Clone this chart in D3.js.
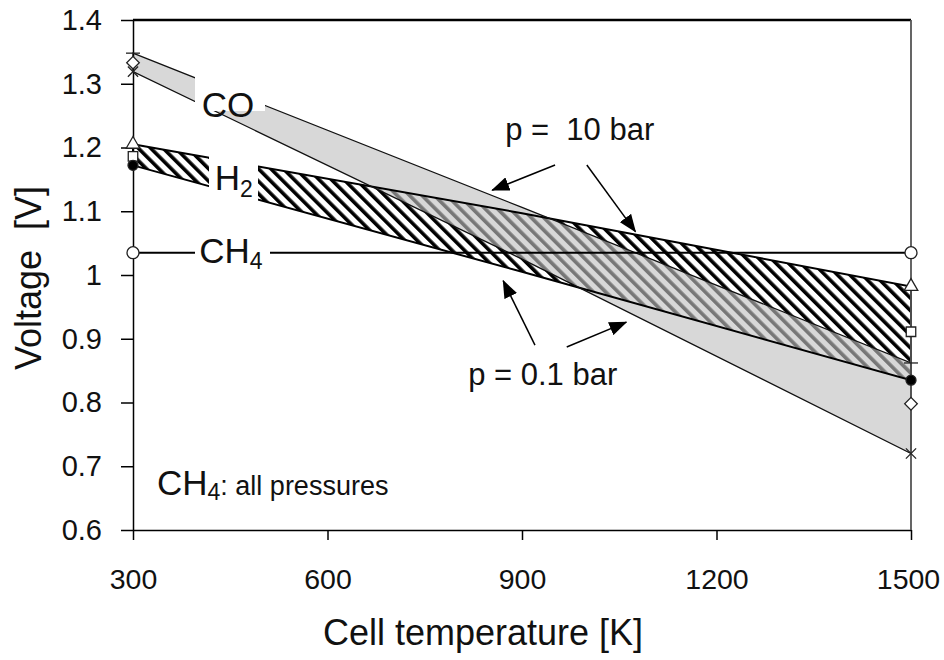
<!DOCTYPE html>
<html>
<head>
<meta charset="utf-8">
<script src="https://cdn.jsdelivr.net/npm/d3@7"></script>
<style>
  body { margin: 0; background: #fff; }
  svg { display: block; }
  text { font-family: "Liberation Sans", Arial, sans-serif; fill: #111; }
</style>
</head>
<body>
<script>
// Reversible cell voltage vs temperature for CO, H2 and CH4

const width = 944;
const height = 660;

// data
const temps = [300, 900, 1500];
const coHigh = [1.348, 1.106, 0.862];   // p = 10 bar
const coLow = [1.319, 1.025, 0.720];    // p = 0.1 bar
const h2High = [1.205, 1.097, 0.982];   // p = 10 bar
const h2Low = [1.172, 1.005, 0.835];    // p = 0.1 bar
const ch4 = [1.035, 1.035, 1.035];      // all pressures

const endTemps = [300, 1500];
const coMarks10 = [1.348, 0.862];
const coMarks1 = [1.333, 0.798];
const coMarks01 = [1.319, 0.720];
const h2Marks10 = [1.205, 0.982];
const h2Marks1 = [1.186, 0.911];
const h2Marks01 = [1.172, 0.835];
const ch4Marks = [1.035, 1.035];

const xTicks = [300, 600, 900, 1200, 1500];
const yTicks = [0.6, 0.7, 0.8, 0.9, 1.0, 1.1, 1.2, 1.3, 1.4];

const x = d3.scaleLinear().domain([300, 1500]).range([133, 911]);
const y = d3.scaleLinear().domain([0.6, 1.4]).range([530, 20]);

const svg = d3.select("body").append("svg")
    .attr("width", width)
    .attr("height", height);

svg.append("rect").attr("width", width).attr("height", height).attr("fill", "#fff");

const defs = svg.append("defs");

// diagonal hatch for the H2 band
const hatch = defs.append("pattern")
    .attr("id", "hatch")
    .attr("patternUnits", "userSpaceOnUse")
    .attr("width", 8.8)
    .attr("height", 8.8)
    .attr("patternTransform", "rotate(-45)");
hatch.append("rect").attr("width", 8.8).attr("height", 8.8).attr("fill", "#fff");
hatch.append("rect").attr("width", 3.6).attr("height", 8.8).attr("fill", "#000");

defs.append("marker")
    .attr("id", "arrow")
    .attr("markerUnits", "userSpaceOnUse")
    .attr("markerWidth", 18)
    .attr("markerHeight", 14)
    .attr("refX", 17)
    .attr("refY", 7)
    .attr("orient", "auto")
    .append("path")
    .attr("d", "M0,0L18,7L0,14Z")
    .attr("fill", "#000");

const band = (hi, lo) => d3.area()
    .x((d, i) => x(temps[i]))
    .y0((d, i) => y(lo[i]))
    .y1((d, i) => y(hi[i]))(temps);

const line = vals => d3.line()
    .x((d, i) => x(temps[i]))
    .y((d, i) => y(vals[i]))(temps);

// H2 band (hatched)
svg.append("path").attr("d", band(h2High, h2Low)).attr("fill", "url(#hatch)");

// CO band (gray, see-through so the hatch shows in the overlap)
svg.append("path").attr("d", band(coHigh, coLow))
    .attr("fill", "#c0c0c0").attr("fill-opacity", 0.62);

// band outlines
svg.append("path").attr("d", band(h2High, h2Low))
    .attr("fill", "none").attr("stroke", "#000").attr("stroke-width", 2);
svg.append("path").attr("d", band(coHigh, coLow))
    .attr("fill", "none").attr("stroke", "#111").attr("stroke-width", 1.3);

// CH4 line
svg.append("path").attr("d", line(ch4))
    .attr("fill", "none").attr("stroke", "#000").attr("stroke-width", 2);

// white boxes behind the in-band labels
svg.append("rect").attr("x", 195).attr("y", 68).attr("width", 70).attr("height", 43).attr("fill", "#fff");
svg.append("rect").attr("x", 209).attr("y", 148).attr("width", 49).attr("height", 62).attr("fill", "#fff");
svg.append("rect").attr("x", 195).attr("y", 238).attr("width", 75).attr("height", 30).attr("fill", "#fff");

// axes
const yAxis = svg.append("g")
    .attr("transform", `translate(${x(300)},0)`)
    .call(d3.axisLeft(y).tickValues(yTicks).tickSize(12).tickSizeOuter(0).tickPadding(19)
        .tickFormat(d => String(+d.toFixed(1))));
const xAxis = svg.append("g")
    .attr("transform", `translate(0,${y(0.6)})`)
    .call(d3.axisBottom(x).tickValues(xTicks).tickSize(10).tickSizeOuter(0).tickPadding(29)
        .tickFormat(d3.format("d")));

[yAxis, xAxis].forEach(g => {
    g.attr("font-family", null).attr("font-size", 29);
    g.selectAll("line").attr("stroke", "#000").attr("stroke-width", 1.5);
    g.select(".domain").attr("stroke", "#000").attr("stroke-width", 1.5);
    g.selectAll("text").attr("fill", "#111");
});
xAxis.attr("font-size", 28.5);
xAxis.selectAll(".tick").filter(d => d === 1500).select("text").attr("dx", -3);

// frame top and right
svg.append("line").attr("x1", x(300)).attr("x2", x(1500)).attr("y1", y(1.4)).attr("y2", y(1.4))
    .attr("stroke", "#000").attr("stroke-width", 2.5);
svg.append("line").attr("x1", x(1500)).attr("x2", x(1500)).attr("y1", y(1.4)).attr("y2", y(0.6))
    .attr("stroke", "#555").attr("stroke-width", 1.8);

// markers at the end temperatures
const marks = svg.append("g").attr("stroke", "#222").attr("stroke-width", 1.3);
endTemps.forEach((t, i) => {
    const cx = x(t);
    // CO 10 bar: dash
    marks.append("line").attr("x1", cx - 7).attr("x2", cx + 7)
        .attr("y1", y(coMarks10[i])).attr("y2", y(coMarks10[i]));
    // CO 1 bar: open diamond
    marks.append("path").attr("transform", `translate(${cx},${y(coMarks1[i])}) rotate(45)`)
        .attr("d", d3.symbol(d3.symbolSquare, 80)()).attr("fill", "#fff");
    // CO 0.1 bar: cross
    marks.append("path").attr("transform", `translate(${cx},${y(coMarks01[i])})`)
        .attr("d", d3.symbol(d3.symbolX, 70)()).attr("fill", "none");
    // H2 10 bar: open triangle
    marks.append("path").attr("transform", `translate(${cx},${y(h2Marks10[i])})`)
        .attr("d", d3.symbol(d3.symbolTriangle, 80)()).attr("fill", "#fff");
    // H2 1 bar: open square
    marks.append("path").attr("transform", `translate(${cx},${y(h2Marks1[i])})`)
        .attr("d", d3.symbol(d3.symbolSquare, 90)()).attr("fill", "#fff");
    // H2 0.1 bar: filled circle
    marks.append("circle").attr("cx", cx).attr("cy", y(h2Marks01[i])).attr("r", 5)
        .attr("fill", "#000");
    // CH4: open circle
    marks.append("circle").attr("cx", cx).attr("cy", y(ch4Marks[i])).attr("r", 6)
        .attr("fill", "#fff");
});

// labels in the plot
const lbl = (t, v, size) => svg.append("text")
    .attr("x", x(t)).attr("y", y(v)).attr("font-size", size);

lbl(406, 1.248, 35).text("CO");

const h2 = lbl(426, 1.133, 35);
h2.append("tspan").text("H");
h2.append("tspan").attr("font-size", 23).attr("dy", 7).text("2");

const ch4Lbl = lbl(402, 1.019, 35);
ch4Lbl.append("tspan").text("CH");
ch4Lbl.append("tspan").attr("font-size", 23).attr("dy", 6).text("4");

const allP = lbl(337, 0.655, 35);
allP.append("tspan").text("CH");
allP.append("tspan").attr("font-size", 23).attr("dy", 5).text("4");
allP.append("tspan").attr("font-size", 27).attr("dy", -5).text(": all pressures");

lbl(874, 1.212, 31).attr("xml:space", "preserve").text("p =  10 bar");
lbl(817, 0.8275, 31).text("p = 0.1 bar");

// pressure arrows: [tail T, tail V, tip T, tip V]
const arrows = [
    [951, 1.1725, 854, 1.133],
    [1000, 1.1725, 1075, 1.068],
    [920, 0.890, 871, 0.991],
    [969, 0.887, 1061, 0.926]
];
svg.append("g").selectAll("line").data(arrows).join("line")
    .attr("x1", d => x(d[0])).attr("y1", d => y(d[1]))
    .attr("x2", d => x(d[2])).attr("y2", d => y(d[3]))
    .attr("stroke", "#000").attr("stroke-width", 1.5)
    .attr("marker-end", "url(#arrow)");

// axis titles
svg.append("text")
    .attr("x", 483).attr("y", 645)
    .attr("text-anchor", "middle")
    .attr("font-size", 36)
    .text("Cell temperature [K]");

svg.append("text")
    .attr("transform", "translate(41,278) rotate(-90)")
    .attr("text-anchor", "middle")
    .attr("font-size", 36)
    .attr("xml:space", "preserve")
    .text("Voltage  [V]");
</script>
</body>
</html>
